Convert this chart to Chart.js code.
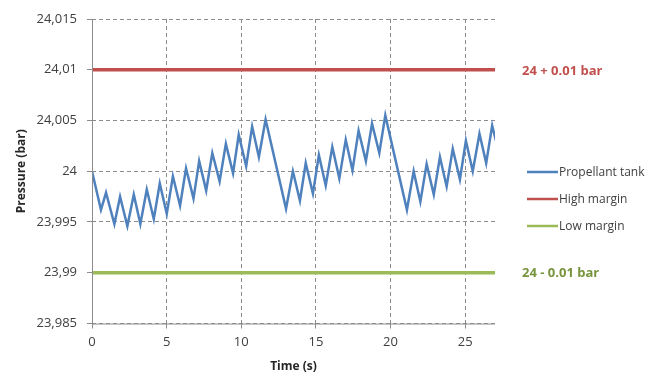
<!DOCTYPE html>
<html>
<head>
<meta charset="utf-8">
<script src="https://cdn.jsdelivr.net/npm/chart.js@4"></script>
<style>
  html, body { margin: 0; padding: 0; background: #fff; }
  #wrap { width: 665px; height: 374px; }
</style>
</head>
<body>
<div id="wrap"><canvas id="chart" width="665" height="374"></canvas></div>
<script>
// time axis (s) and tank pressure (bar)
const time = [0, 0.6, 0.94, 1.5, 1.88, 2.37, 2.8, 3.24, 3.67, 4.14, 4.54, 5.01, 5.42, 5.9, 6.3, 6.8, 7.18, 7.65, 8.06, 8.55, 8.97,
  9.45, 9.83, 10.33, 10.73, 11.18, 11.63, 13.0, 13.46, 13.93, 14.32, 14.8, 15.2, 15.66, 16.1, 16.57, 17.0, 17.45, 17.86,
  18.35, 18.76, 19.25, 19.65, 21.1, 21.55, 22.0, 22.42, 22.9, 23.31, 23.76, 24.17, 24.65, 25.05, 25.51, 25.96, 26.41, 26.81, 27.1];
const pressure = [24.0, 23.9962, 23.9979, 23.9948, 23.9975, 23.9946, 23.9977, 23.9948, 23.9982, 23.9953, 23.9988, 23.9958,
  23.9995, 23.9966, 24.0003, 23.9973, 24.0010, 23.9981, 24.0018, 23.9990, 24.0027,
  23.9998, 24.0036, 24.0005, 24.0044, 24.0014, 24.0051, 23.9963, 24.0000, 23.9971, 24.0008, 23.9978, 24.0016, 23.9986,
  24.0024, 23.9993, 24.0031, 24.0001, 24.0040, 24.0010, 24.0047, 24.0018, 24.0055, 23.9962, 24.0000, 23.9970, 24.0007,
  23.9977, 24.0014, 23.9985, 24.0022, 23.9992, 24.0030, 24.0000, 24.0037, 24.0008, 24.0045, 24.0028];

const highMargin = 24.01;
const lowMargin = 23.99;
const marginTime = [0, 27];

const xTicks = [0, 5, 10, 15, 20, 25];
const yTicks = [23.985, 23.99, 23.995, 24, 24.005, 24.01, 24.015];
const yTickLabels = ['23,985', '23,99', '23,995', '24', '24,005', '24,01', '24,015'];

const seriesNames = ['Propellant tank', 'High margin', 'Low margin'];
const seriesColors = ['#4f81bd', '#c0504d', '#9bbb59'];

const FONT = "'Open Sans', sans-serif";
const GRID = '#8c8c8c';

// axis lines, legend and margin labels on the right side
const sideText = {
  id: 'sideText',
  afterDraw(chart) {
    const ctx = chart.ctx;
    const area = chart.chartArea;
    ctx.save();
    // solid axis lines (grid lines are dashed)
    ctx.strokeStyle = GRID;
    ctx.lineWidth = 1;
    ctx.beginPath();
    ctx.moveTo(area.left + 0.5, area.top);
    ctx.lineTo(area.left + 0.5, area.bottom + 0.5);
    ctx.lineTo(area.right, area.bottom + 0.5);
    ctx.stroke();

    ctx.textBaseline = 'middle';
    ctx.font = '12px ' + FONT;
    const rows = [172, 199, 226];
    chart.data.datasets.forEach((ds, i) => {
      ctx.strokeStyle = ds.borderColor;
      ctx.lineWidth = 2.5;
      ctx.beginPath();
      ctx.moveTo(527, rows[i]);
      ctx.lineTo(558, rows[i]);
      ctx.stroke();
      ctx.fillStyle = '#404040';
      ctx.fillText(ds.label, 559, rows[i] + 1);
    });
    const y = chart.scales.y;
    ctx.font = 'bold 13px ' + FONT;
    ctx.fillStyle = '#c0504d';
    ctx.fillText('24 + 0.01 bar', 522, y.getPixelForValue(highMargin) + 2);
    ctx.fillStyle = '#77933c';
    ctx.fillText('24 - 0.01 bar', 522, y.getPixelForValue(lowMargin) + 1);
    ctx.restore();
  }
};

new Chart(document.getElementById('chart'), {
  type: 'line',
  data: {
    datasets: [
      {
        label: seriesNames[0],
        data: time.map((t, i) => ({ x: t, y: pressure[i] })),
        borderColor: seriesColors[0],
        borderWidth: 2.5,
        order: 0
      },
      {
        label: seriesNames[1],
        data: marginTime.map(t => ({ x: t, y: highMargin })),
        borderColor: seriesColors[1],
        borderWidth: 3.5,
        order: 1
      },
      {
        label: seriesNames[2],
        data: marginTime.map(t => ({ x: t, y: lowMargin })),
        borderColor: seriesColors[2],
        borderWidth: 3.5,
        order: 2
      }
    ]
  },
  options: {
    responsive: false,
    animation: false,
    devicePixelRatio: 1,
    layout: { padding: { top: 19, right: 170, left: 0, bottom: 0 } },
    elements: { point: { radius: 0 }, line: { tension: 0 } },
    plugins: { legend: { display: false }, tooltip: { enabled: false } },
    scales: {
      x: {
        type: 'linear',
        min: 0,
        max: 27,
        afterFit: s => { s.height = 50.5; },
        afterBuildTicks: s => { s.ticks = xTicks.map(v => ({ value: v })); },
        grid: {
          color: c => (c.tick && xTicks.includes(c.tick.value) ? GRID : 'rgba(0,0,0,0)'),
          tickColor: c => (c.tick && xTicks.includes(c.tick.value) ? GRID : 'rgba(0,0,0,0)'),
          tickLength: 5
        },
        border: { display: false, dash: [4, 3] },
        ticks: { padding: 6, color: '#404040', font: { family: FONT, size: 13 } },
        title: { display: true, text: 'Time (s)', color: '#262626', font: { family: FONT, size: 12, weight: 'bold' }, padding: { top: 0, bottom: 0 } }
      },
      y: {
        min: 23.985,
        max: 24.015,
        afterFit: s => { s.width = 92; },
        afterBuildTicks: s => { s.ticks = yTicks.map(v => ({ value: v })); },
        grid: { color: GRID, tickLength: 5, tickColor: GRID },
        border: { display: false, dash: [4, 3] },
        ticks: {
          padding: 10,
          color: '#404040',
          font: { family: FONT, size: 13 },
          callback: (v) => {
            const i = yTicks.findIndex(t => Math.abs(t - v) < 1e-6);
            return i >= 0 ? yTickLabels[i] : '';
          }
        },
        title: { display: true, text: 'Pressure (bar)', color: '#262626', font: { family: FONT, size: 12, weight: 'bold' }, padding: { top: 14, bottom: 0 } }
      }
    }
  },
  plugins: [sideText]
});
</script>
</body>
</html>
